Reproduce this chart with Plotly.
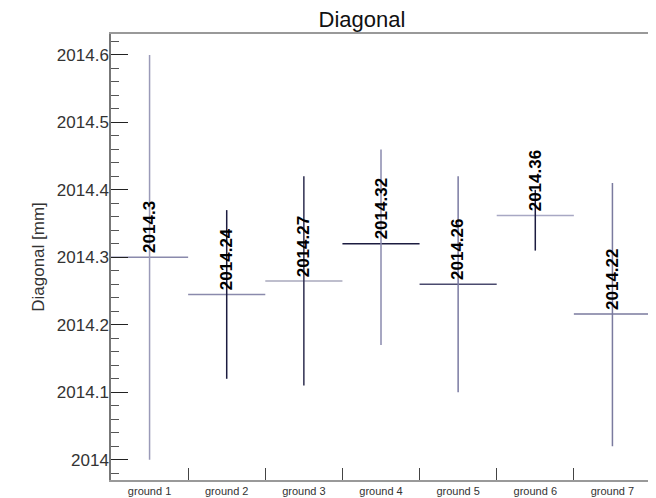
import plotly.graph_objects as go

categories = ["ground 1", "ground 2", "ground 3", "ground 4", "ground 5", "ground 6", "ground 7"]
means = [2014.300, 2014.245, 2014.265, 2014.320, 2014.260, 2014.362, 2014.216]
mins = [2014.00, 2014.12, 2014.11, 2014.17, 2014.10, 2014.31, 2014.02]
maxs = [2014.60, 2014.37, 2014.42, 2014.46, 2014.42, 2014.40, 2014.41]
mean_labels = ["2014.3", "2014.24", "2014.27", "2014.32", "2014.26", "2014.36", "2014.22"]

vert_colors = ["#9a9ab8", "#1c1c40", "#2e2e50", "#8a8aae", "#7a7aa2", "#1c1c40", "#7a7a9e"]
horiz_colors = ["#8a8aac", "#8a8aac", "#a8a8bc", "#1c1c40", "#4a4a6e", "#a8a8c4", "#7a7a9e"]

FONT = "Arial, Liberation Sans, sans-serif"

# page body has an 8px margin, so the figure is sized/offset to compensate
W, H = 648, 490

fig = go.Figure()
pos = list(range(1, len(categories) + 1))
for i, p in enumerate(pos):
    fig.add_trace(go.Scatter(x=[p - 0.5, p + 0.5], y=[means[i], means[i]], mode="lines",
                             line=dict(color=horiz_colors[i], width=1.5), hoverinfo="skip", showlegend=False))
    fig.add_trace(go.Scatter(x=[p, p], y=[mins[i], maxs[i]], mode="lines",
                             line=dict(color=vert_colors[i], width=1.5), hoverinfo="skip", showlegend=False))
    fig.add_annotation(x=p, y=means[i], text="<b>" + mean_labels[i] + "</b>", textangle=-90,
                       showarrow=False, xanchor="center", yanchor="bottom", yshift=2,
                       font=dict(family=FONT, size=17, color="#000000"))

fig.update_layout(
    width=W, height=H,
    margin=dict(l=103, r=5, t=26, b=18, autoexpand=False),
    paper_bgcolor="white", plot_bgcolor="white",
    title=dict(text="Diagonal", x=354 / W, xanchor="center", y=1 - 4 / H, yanchor="top", pad=dict(t=0),
               font=dict(family=FONT, size=22, color="#111111")),
    font=dict(family=FONT, color="#333333"),
)

fig.update_xaxes(
    range=[0.5, len(categories) + 0.5],
    tickmode="array", tickvals=pos, ticktext=categories,
    ticks="inside", ticklen=0, automargin=False, ticklabelstandoff=0,
    tickfont=dict(family=FONT, size=11, color="#333333"),
    showgrid=False, zeroline=False,
    showline=True, linecolor="#999999", linewidth=1.5, mirror=True,
    minor=dict(tickmode="array", tickvals=[p + 0.5 for p in pos[:-1]], ticks="inside",
               ticklen=12, tickwidth=1.2, tickcolor="#444444", showgrid=False),
)

fig.update_yaxes(
    range=[2013.970, 2014.631],
    tickmode="linear", tick0=2014, dtick=0.1, tickformat="~g", automargin=False,
    ticklabelstandoff=-3,
    ticks="inside", ticklen=17, tickwidth=1.3, tickcolor="#222222",
    tickfont=dict(family=FONT, size=17, color="#333333"),
    title=dict(text="Diagonal [mm]", font=dict(family=FONT, size=17, color="#333333"), standoff=8),
    showgrid=False, zeroline=False,
    showline=True, linecolor="#777777", linewidth=1.5, mirror=True,
    minor=dict(tickmode="linear", tick0=2014, dtick=0.02, ticks="inside", ticklen=8,
               tickwidth=1, tickcolor="#555555", showgrid=False),
)

fig.write_html("out.html")
